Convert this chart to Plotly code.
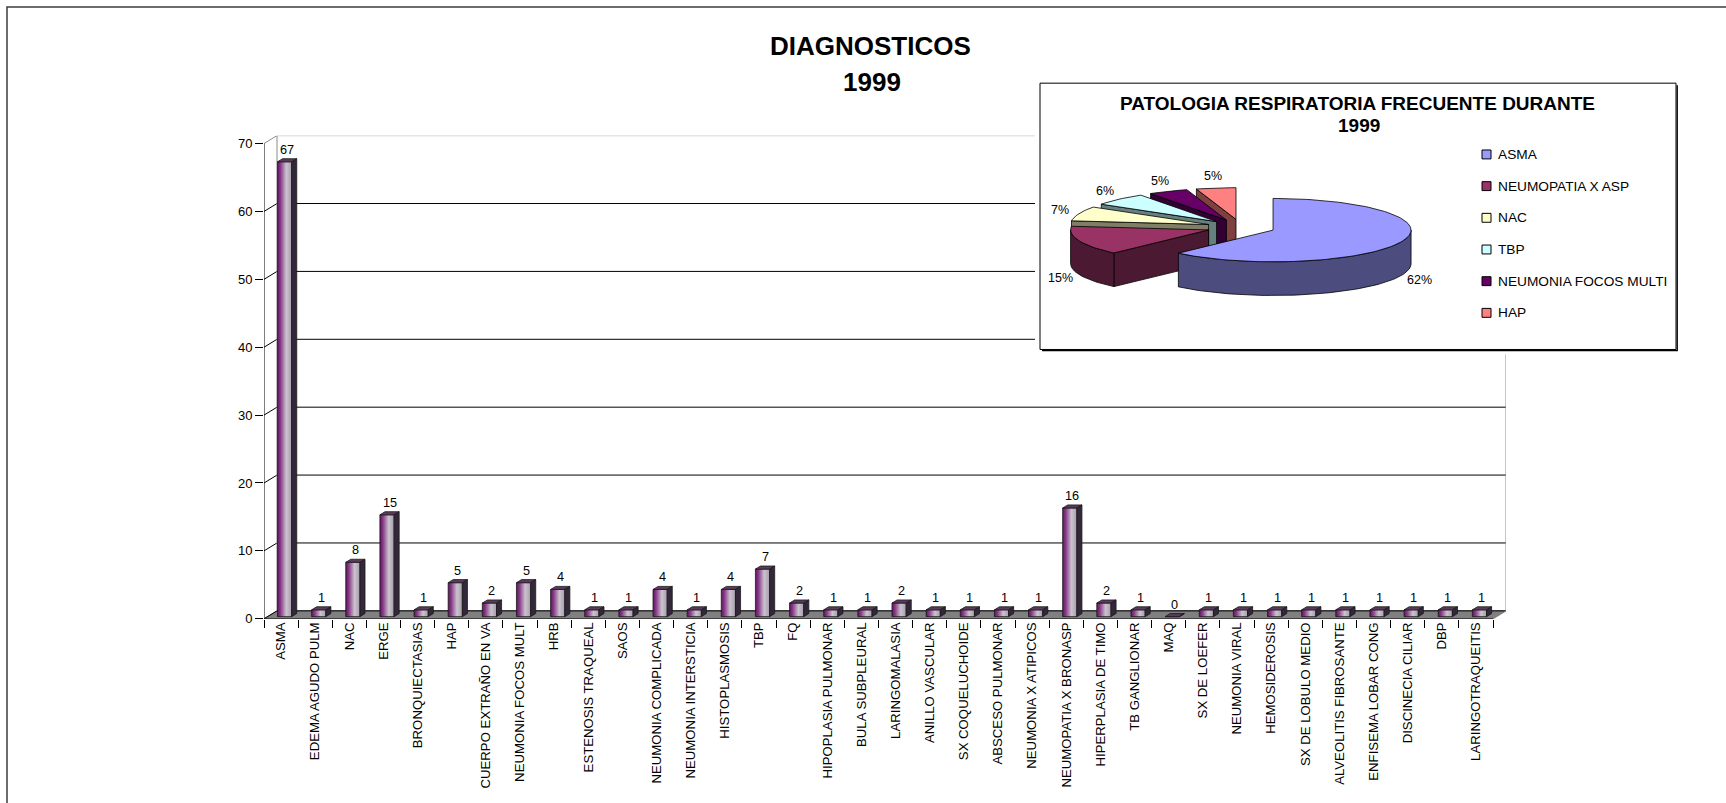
import math
import plotly.graph_objects as go

# ---------------------------------------------------------------- data
categorias = [
    "ASMA", "EDEMA AGUDO PULM", "NAC", "ERGE", "BRONQUIECTASIAS", "HAP",
    "CUERPO EXTRAÑO EN VA", "NEUMONIA FOCOS MULT", "HRB", "ESTENOSIS TRAQUEAL",
    "SAOS", "NEUMONIA COMPLICADA", "NEUMONIA INTERSTICIA", "HISTOPLASMOSIS", "TBP",
    "FQ", "HIPOPLASIA PULMONAR", "BULA SUBPLEURAL", "LARINGOMALASIA",
    "ANILLO VASCULAR", "SX COQUELUCHOIDE", "ABSCESO PULMONAR",
    "NEUMONIA X ATIPICOS", "NEUMOPATIA X BRONASP", "HIPERPLASIA DE TIMO",
    "TB GANGLIONAR", "MAQ", "SX DE LOEFER", "NEUMONIA VIRAL", "HEMOSIDEROSIS",
    "SX DE LOBULO MEDIO", "ALVEOLITIS FIBROSANTE", "ENFISEMA LOBAR CONG",
    "DISCINECIA CILIAR", "DBP", "LARINGOTRAQUEITIS",
]
casos = [67, 1, 8, 15, 1, 5, 2, 5, 4, 1, 1, 4, 1, 4, 7, 2, 1, 1, 2, 1, 1, 1, 1,
         16, 2, 1, 0, 1, 1, 1, 1, 1, 1, 1, 1, 1]
y_ticks = [0, 10, 20, 30, 40, 50, 60, 70]

pie_labels = ["ASMA", "NEUMOPATIA X ASP", "NAC", "TBP",
              "NEUMONIA FOCOS MULTI", "HAP"]
pie_values = [67, 16, 8, 7, 5, 5]
pie_colors = ["#9999FF", "#993366", "#FFFFCC", "#CCFFFF", "#660066", "#FF8080"]

# ---------------------------------------------------------------- layout constants
W, H = 1726, 803
FONT = "Liberation Sans, Arial, sans-serif"


def px(x):
    return x / W


def py(y):
    return 1 - y / H


# main 3-D column plot box (pixels)
X0, X1 = 264, 1506          # left axis, right edge of back wall
Y0, Y1 = 625, 137           # value 0 on front, top of back wall
FRONT_RIGHT = 1493
N = len(categorias)
cat_px = (FRONT_RIGHT - X0) / N
unit_px = (Y0 - 145) / 70.0
DX = 13 / cat_px            # wall depth, x (category units)
DY = 8 / unit_px            # wall depth, y (value units)
XMIN = -0.5
XMAX = XMIN + (X1 - X0) / cat_px
YMAX = (Y0 - Y1) / unit_px
XEND = N - 0.5

# bar geometry
BW = 14.2 / cat_px
D0, D1 = 0.27, 0.66
bar_scale = [[0.0, "#5a175a"], [0.22, "#8a3a8a"], [0.62, "#cbc4ce"],
             [1.0, "#a59daa"]]

fig = go.Figure()

# floor
fig.add_trace(go.Scatter(
    x=[XMIN, XEND, XEND + DX, XMIN + DX, XMIN],
    y=[0, 0, DY, DY, 0], mode="lines", fill="toself",
    fillcolor="#808080", line=dict(color="#606060", width=0.8),
    hoverinfo="skip", showlegend=False))

# gridlines on back and left walls
gx, gy = [], []
for t in y_ticks[:-1]:
    gx += [XMIN, XMIN + DX, XEND + DX, None]
    gy += [t, t + DY, t + DY, None]
fig.add_trace(go.Scatter(x=gx, y=gy, mode="lines",
                         line=dict(color="#000000", width=1),
                         hoverinfo="skip", showlegend=False))

# wall borders
top = y_ticks[-1]
fig.add_trace(go.Scatter(
    x=[XMIN, XMIN + DX, XEND + DX, XEND + DX, XEND, None,
       XMIN + DX, XMIN + DX],
    y=[top, top + DY, top + DY, DY, 0, None, top + DY, DY],
    mode="lines", line=dict(color="#8c8c8c", width=1),
    hoverinfo="skip", showlegend=False))

# front axis lines
fig.add_trace(go.Scatter(
    x=[XMIN, XMIN, XEND], y=[top, 0, 0], mode="lines",
    line=dict(color="#000000", width=1), hoverinfo="skip", showlegend=False))

# columns: gradient front faces
tops_x, tops_y, side_x, side_y = [], [], [], []
for i, v in enumerate(casos):
    xl = i - BW / 2 + D0 * DX
    xr = i + BW / 2 + D0 * DX
    yb = D0 * DY
    yt = v + D0 * DY
    ex = (D1 - D0) * DX
    ey = (D1 - D0) * DY
    fig.add_trace(go.Scatter(
        x=[xl, xr, xr, xl, xl], y=[yb, yb, yt, yt, yb], mode="lines",
        fill="toself", fillgradient=dict(type="horizontal",
                                         colorscale=bar_scale),
        line=dict(color="#1a1a1a", width=0.8),
        hoverinfo="skip", showlegend=False))
    tops_x += [xl, xr, xr + ex, xl + ex, xl, None]
    tops_y += [yt, yt, yt + ey, yt + ey, yt, None]
    side_x += [xr, xr + ex, xr + ex, xr, xr, None]
    side_y += [yb, yb + ey, yt + ey, yt, yb, None]

fig.add_trace(go.Scatter(x=tops_x, y=tops_y, mode="lines", fill="toself",
                         fillcolor="#5c3a5e",
                         line=dict(color="#1a1a1a", width=0.8),
                         hoverinfo="skip", showlegend=False))
fig.add_trace(go.Scatter(x=side_x, y=side_y, mode="lines", fill="toself",
                         fillcolor="#33283a",
                         line=dict(color="#1a1a1a", width=0.8),
                         hoverinfo="skip", showlegend=False))

annotations = []
for i, v in enumerate(casos):
    annotations.append(dict(
        x=i + (D0 + D1) / 2 * DX, y=v + D1 * DY, xref="x", yref="y",
        text=str(v), showarrow=False, xanchor="center", yanchor="bottom",
        font=dict(family=FONT, size=12.7, color="#000000")))

# ---------------------------------------------------------------- inset: 3-D pie
BOX_L, BOX_T, BOX_R, BOX_B = 1040, 84, 1676, 353
PAD = 5
BW_IN = BOX_R - BOX_L
BH_IN = BOX_B - BOX_T

fig.add_trace(go.Scatter(
    x=[0, BW_IN, BW_IN, 0, 0], y=[0, 0, BH_IN, BH_IN, 0], mode="lines",
    fill="toself", fillcolor="#FFFFFF", line=dict(color="#000000", width=1),
    xaxis="x2", yaxis="y2", hoverinfo="skip", showlegend=False))
fig.add_trace(go.Scatter(
    x=[BW_IN + 1.2, BW_IN + 1.2, 2], y=[BH_IN - 2, -1.2, -1.2], mode="lines",
    line=dict(color="#000000", width=1.4),
    xaxis="x2", yaxis="y2", hoverinfo="skip", showlegend=False))

PCX, PCY = 1241 - BOX_L, BOX_B - 229.5
RX, RY = 138, 32
DEPTH = 34
EXPL = 0.25


def shade(hexcol, f=0.5):
    r, g, b = (int(hexcol[k:k + 2], 16) for k in (1, 3, 5))
    return "#%02x%02x%02x" % (int(r * f), int(g * f), int(b * f))


def arc(cx, cy, a0, a1, dz=0.0):
    n = max(2, int(abs(a1 - a0) / 2) + 2)
    pts = []
    for k in range(n):
        a = math.radians(a0 + (a1 - a0) * k / (n - 1))
        pts.append((cx + RX * math.sin(a), cy + RY * math.cos(a) - dz))
    return pts


total = sum(pie_values)
slices = []
cum = 0
for name, v, col in zip(pie_labels, pie_values, pie_colors):
    a0 = 360.0 * cum / total
    a1 = 360.0 * (cum + v) / total
    cum += v
    mid = math.radians((a0 + a1) / 2)
    cx = PCX + EXPL * RX * math.sin(mid)
    cy = PCY + EXPL * RY * math.cos(mid)
    front = min(p[1] for p in arc(cx, cy, a0, a1))
    slices.append(dict(name=name, v=v, col=col, a0=a0, a1=a1, mid=mid,
                       cx=cx, cy=cy, front=front))


def poly(pts, fill):
    xs = [p[0] for p in pts] + [pts[0][0]]
    ys = [p[1] for p in pts] + [pts[0][1]]
    fig.add_trace(go.Scatter(
        x=xs, y=ys, mode="lines", fill="toself", fillcolor=fill,
        line=dict(color="#000000", width=0.8), xaxis="x2", yaxis="y2",
        hoverinfo="skip", showlegend=False))


for s in sorted(slices, key=lambda s: -s["front"]):
    cx, cy, a0, a1 = s["cx"], s["cy"], s["a0"], s["a1"]
    dark = shade(s["col"])
    # cut faces that face the viewer
    for ang, vis in ((a0, math.sin(math.radians(a0)) < -1e-9),
                     (a1, math.sin(math.radians(a1)) > 1e-9)):
        if vis:
            e = arc(cx, cy, ang, ang)[0]
            poly([(cx, cy), e, (e[0], e[1] - DEPTH), (cx, cy - DEPTH)], dark)
    # curved outer wall on the front half
    lo, hi = max(a0, 90.0), min(a1, 270.0)
    if hi > lo:
        top_pts = arc(cx, cy, lo, hi)
        bot_pts = arc(cx, cy, lo, hi, DEPTH)
        poly(top_pts + bot_pts[::-1], dark)
    # top face
    poly([(cx, cy)] + arc(cx, cy, a0, a1), s["col"])

# percentage labels
for s in slices:
    sx, cy_ = math.sin(s["mid"]), math.cos(s["mid"])
    lx = s["cx"] + (RX + 20) * sx
    ly = s["cy"] + (RY + 12) * cy_ - (DEPTH if cy_ < 0 else 0)
    annotations.append(dict(
        x=lx, y=ly, xref="x2", yref="y2", showarrow=False,
        xanchor="center", yanchor="middle",
        text="%d%%" % round(100.0 * s["v"] / total),
        font=dict(family=FONT, size=12.5, color="#000000")))

# legend of the inset
shapes = []
for k, (name, col) in enumerate(zip(pie_labels, pie_colors)):
    yc = 156 + 32 * k
    shapes.append(dict(type="rect", xref="paper", yref="paper",
                       x0=px(1482), x1=px(1491), y0=py(yc + 4.5),
                       y1=py(yc - 4.5), fillcolor=col,
                       line=dict(color="#000000", width=1)))
    annotations.append(dict(
        x=px(1496), y=py(yc), xref="paper", yref="paper", text=name,
        showarrow=False, xanchor="left", yanchor="middle",
        font=dict(family=FONT, size=13.7, color="#000000")))

# titles
annotations += [
    dict(x=px(870), y=py(46), xref="paper", yref="paper",
         text="<b>DIAGNOSTICOS</b>", showarrow=False,
         xanchor="center", yanchor="middle",
         font=dict(family=FONT, size=26, color="#000000")),
    dict(x=px(872), y=py(82.5), xref="paper", yref="paper",
         text="<b>1999</b>", showarrow=False,
         xanchor="center", yanchor="middle",
         font=dict(family=FONT, size=26, color="#000000")),
    dict(x=px(1357), y=py(105), xref="paper", yref="paper",
         text="<b>PATOLOGIA RESPIRATORIA FRECUENTE DURANTE</b>",
         showarrow=False, xanchor="center", yanchor="middle",
         font=dict(family=FONT, size=19, color="#000000")),
    dict(x=px(1359), y=py(126.5), xref="paper", yref="paper",
         text="<b>1999</b>", showarrow=False,
         xanchor="center", yanchor="middle",
         font=dict(family=FONT, size=19, color="#000000")),
]

# outer chart frame
shapes.append(dict(type="rect", xref="paper", yref="paper",
                   x0=px(7), y0=py(7), x1=px(W + 20), y1=py(H + 20),
                   line=dict(color="#3c3c3c", width=1.5),
                   fillcolor="rgba(0,0,0,0)", layer="below"))

fig.update_layout(
    width=W, height=H,
    margin=dict(l=0, r=0, t=0, b=0),
    paper_bgcolor="#FFFFFF", plot_bgcolor="#FFFFFF",
    showlegend=False,
    font=dict(family=FONT, color="#000000"),
    xaxis=dict(domain=[px(X0), px(X1)], range=[XMIN, XMAX],
               tickmode="array", tickvals=list(range(N)),
               ticktext=categorias, tickangle=-90, ticks="",
               tickfont=dict(family=FONT, size=13.2, color="#000000"),
               showgrid=False, zeroline=False, showline=False,
               minor=dict(tickmode="array",
                          tickvals=[i - 0.5 for i in range(N + 1)],
                          ticks="outside", ticklen=8, tickwidth=1,
                          tickcolor="#000000", showgrid=False),
               fixedrange=True),
    yaxis=dict(domain=[py(Y0), py(Y1)], range=[0, YMAX],
               tickmode="array", tickvals=y_ticks, ticks="outside",
               ticklen=8, tickwidth=1, tickcolor="#000000",
               tickfont=dict(family=FONT, size=13, color="#000000"),
               showgrid=False, zeroline=False, showline=False,
               fixedrange=True),
    xaxis2=dict(domain=[px(BOX_L - PAD), px(BOX_R + PAD)],
                range=[-PAD, BW_IN + PAD], anchor="y2", visible=False,
                fixedrange=True),
    yaxis2=dict(domain=[py(BOX_B + PAD), py(BOX_T - PAD)],
                range=[-PAD, BH_IN + PAD], anchor="x2", visible=False,
                fixedrange=True),
    annotations=annotations,
    shapes=shapes,
)

fig.write_html("out.html", config={"displayModeBar": False})
